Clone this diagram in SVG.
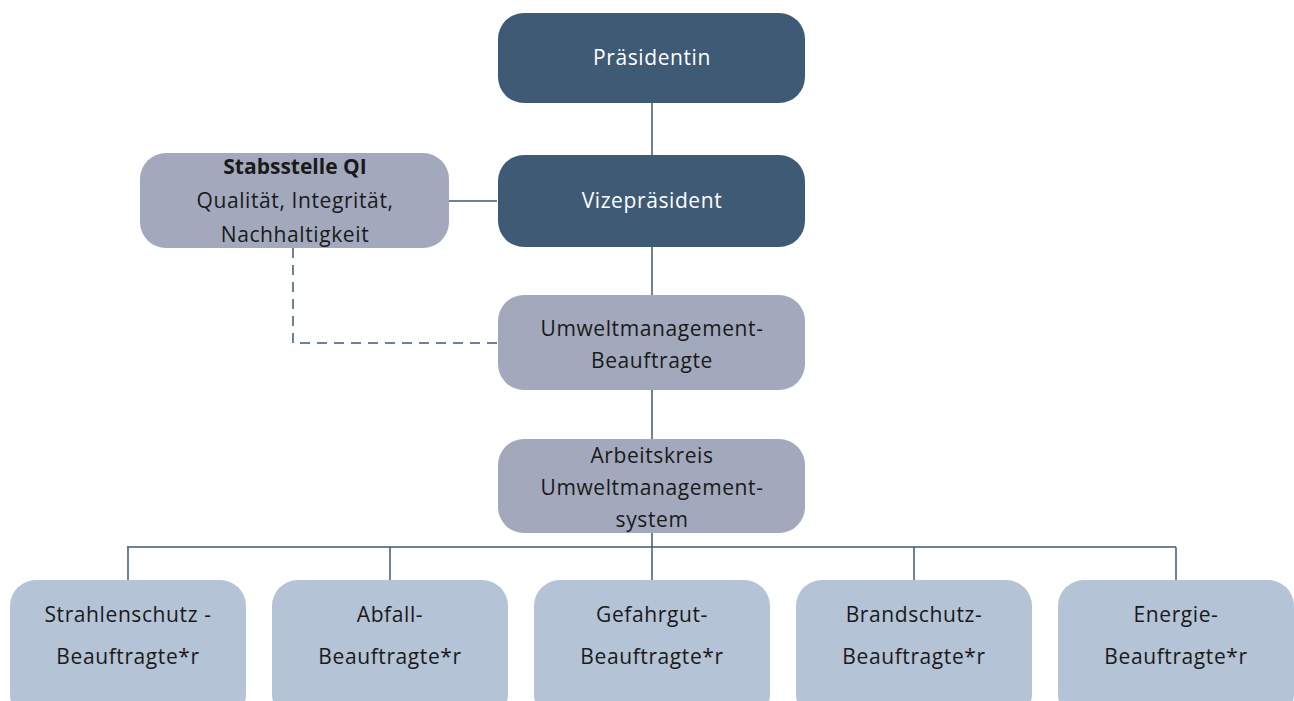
<svg xmlns="http://www.w3.org/2000/svg" width="1294" height="701" viewBox="0 0 1294 701">
<style>
.t{font-family:"Open Sans","Liberation Sans",Arial,sans-serif;font-size:21px;text-anchor:middle;fill:#1a1a1a;letter-spacing:0.6px}
.w{fill:#ffffff}
.b{font-weight:bold;letter-spacing:0}
.dark{fill:#3e5a75}
.mid{fill:#a2a9bc}
.light{fill:#b4c3d5}
.c{stroke:#3e5a75;stroke-width:1.5;fill:none}
.d{stroke-dasharray:10 7}
</style>
<g id="connectors">
<line class="c" x1="652" y1="103" x2="652" y2="155"/>
<line class="c" x1="449" y1="201" x2="497" y2="201"/>
<line class="c" x1="652" y1="247" x2="652" y2="295"/>
<polyline class="c d" points="293,248 293,343 497,343"/>
<line class="c" x1="652" y1="390" x2="652" y2="439"/>
<line class="c" x1="652" y1="533" x2="652" y2="547"/>
<line class="c" x1="127" y1="547" x2="1176" y2="547"/>
<line class="c" x1="128" y1="547" x2="128" y2="580"/>
<line class="c" x1="390" y1="547" x2="390" y2="580"/>
<line class="c" x1="652" y1="547" x2="652" y2="580"/>
<line class="c" x1="914" y1="547" x2="914" y2="580"/>
<line class="c" x1="1176" y1="547" x2="1176" y2="580"/>
</g>
<g id="praesidentin">
<rect class="dark" x="498" y="13" width="307" height="90" rx="26"/>
<text class="t w" x="652" y="65">Präsidentin</text>
</g>
<g id="vizepraesident">
<rect class="dark" x="498" y="155" width="307" height="92" rx="26"/>
<text class="t w" x="652" y="208">Vizepräsident</text>
</g>
<g id="stabsstelle">
<rect class="mid" x="140" y="153" width="309" height="95" rx="26"/>
<text class="t b" x="295" y="174">Stabsstelle QI</text>
<text class="t" x="295" y="208">Qualität, Integrität,</text>
<text class="t" x="295" y="242">Nachhaltigkeit</text>
</g>
<g id="umweltmanagement">
<rect class="mid" x="498" y="295" width="307" height="95" rx="26"/>
<text class="t" x="652" y="336">Umweltmanagement-</text>
<text class="t" x="652" y="368">Beauftragte</text>
</g>
<g id="arbeitskreis">
<rect class="mid" x="498" y="439" width="307" height="94" rx="26"/>
<text class="t" x="652" y="463">Arbeitskreis</text>
<text class="t" x="652" y="495">Umweltmanagement-</text>
<text class="t" x="652" y="527">system</text>
</g>
<g id="strahlenschutz">
<rect class="light" x="10" y="580" width="236" height="140" rx="26"/>
<text class="t" x="128" y="622">Strahlenschutz -</text>
<text class="t" x="128" y="664">Beauftragte*r</text>
</g>
<g id="abfall">
<rect class="light" x="272" y="580" width="236" height="140" rx="26"/>
<text class="t" x="390" y="622">Abfall-</text>
<text class="t" x="390" y="664">Beauftragte*r</text>
</g>
<g id="gefahrgut">
<rect class="light" x="534" y="580" width="236" height="140" rx="26"/>
<text class="t" x="652" y="622">Gefahrgut-</text>
<text class="t" x="652" y="664">Beauftragte*r</text>
</g>
<g id="brandschutz">
<rect class="light" x="796" y="580" width="236" height="140" rx="26"/>
<text class="t" x="914" y="622">Brandschutz-</text>
<text class="t" x="914" y="664">Beauftragte*r</text>
</g>
<g id="energie">
<rect class="light" x="1058" y="580" width="236" height="140" rx="26"/>
<text class="t" x="1176" y="622">Energie-</text>
<text class="t" x="1176" y="664">Beauftragte*r</text>
</g>
</svg>
